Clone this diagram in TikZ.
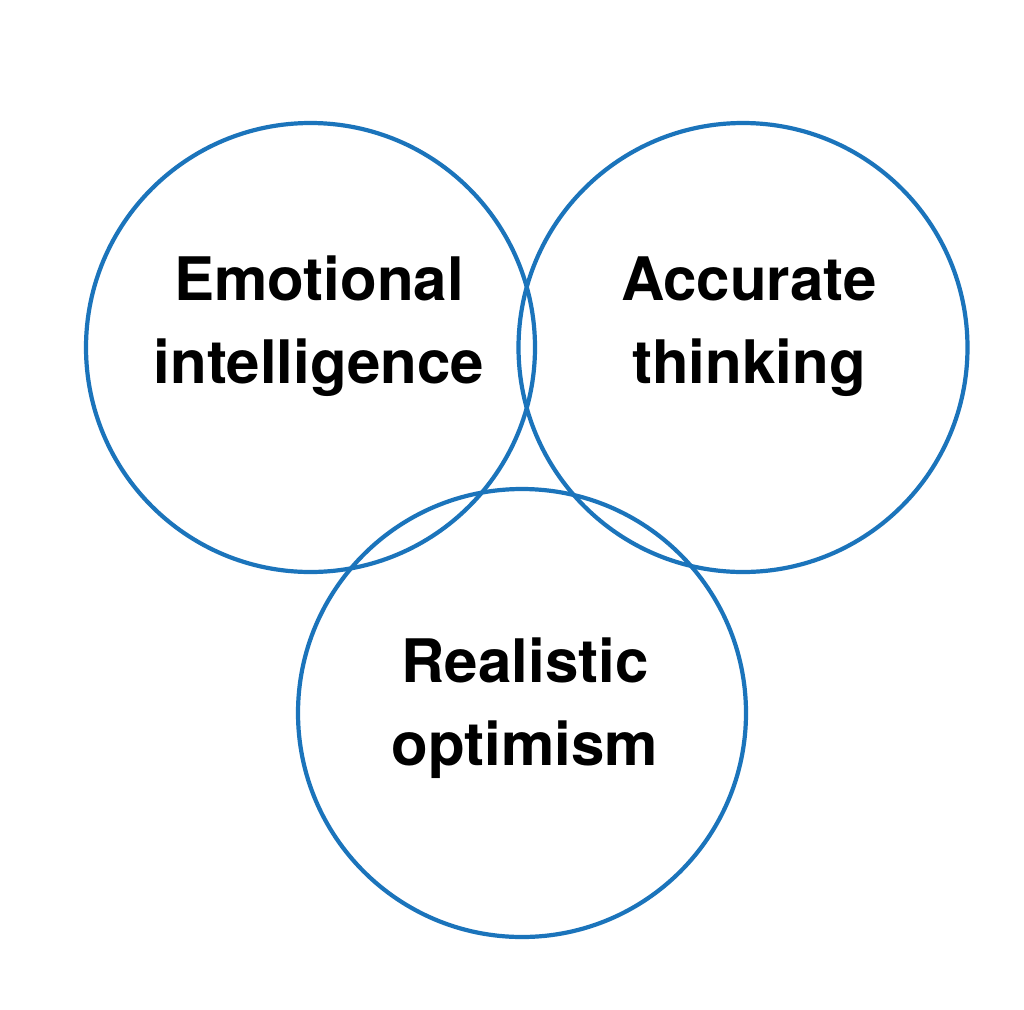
\documentclass[tikz,border=0pt]{standalone}
\usepackage{fontspec}
\setmainfont{TeX Gyre Heros}
\definecolor{vennblue}{RGB}{27,116,187}
\begin{document}
\begin{tikzpicture}[x=1pt,y=-1pt,
  ring/.style={draw=vennblue,line width=4.2pt},
  lbl/.style={anchor=base,inner sep=0pt,font=\fontsize{60}{83}\selectfont\bfseries,text=black}]
\useasboundingbox (0,0) rectangle (1024,1009);
\fill[white] (0,0) rectangle (1024,1009);
\draw[ring] (310.5,347.5) circle[radius=224.5];
\draw[ring] (743,347.5) circle[radius=224.5];
\draw[ring] (522,713) circle[radius=224];
\node[lbl] (emo1) at (319,300) {Emotional};
\node[lbl] (emo2) at (319,383) {intelligence};
\node[lbl] (acc1) at (749,300) {Accurate};
\node[lbl] (acc2) at (749,383) {thinking};
\node[lbl] (rea1) at (525,682) {Realistic};
\node[lbl] (rea2) at (525,765) {optimism};
\end{tikzpicture}
\end{document}
